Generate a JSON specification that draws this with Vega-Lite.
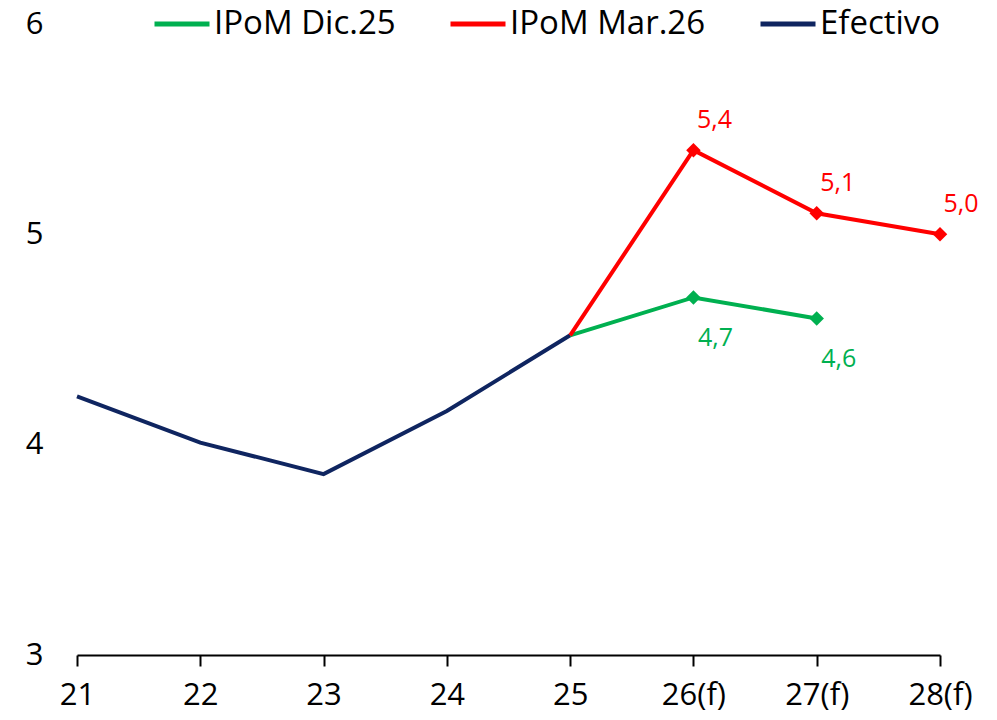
{
  "$schema": "https://vega.github.io/schema/vega-lite/v6.json",
  "autosize": "none",
  "width": 863,
  "height": 631,
  "padding": {"left": 77, "top": 24, "right": 57, "bottom": 65},
  "config": {"view": {"stroke": null}, "font": "Open Sans"},
  "data": {"values": [
    {"serie": "Efectivo", "anio": "21", "valor": 4.23, "etiqueta": ""},
    {"serie": "Efectivo", "anio": "22", "valor": 4.01, "etiqueta": ""},
    {"serie": "Efectivo", "anio": "23", "valor": 3.86, "etiqueta": ""},
    {"serie": "Efectivo", "anio": "24", "valor": 4.16, "etiqueta": ""},
    {"serie": "Efectivo", "anio": "25", "valor": 4.52, "etiqueta": ""},
    {"serie": "IPoM Dic.25", "anio": "25", "valor": 4.52, "etiqueta": ""},
    {"serie": "IPoM Dic.25", "anio": "26(f)", "valor": 4.7, "etiqueta": "4,7"},
    {"serie": "IPoM Dic.25", "anio": "27(f)", "valor": 4.6, "etiqueta": "4,6"},
    {"serie": "IPoM Mar.26", "anio": "25", "valor": 4.52, "etiqueta": ""},
    {"serie": "IPoM Mar.26", "anio": "26(f)", "valor": 5.4, "etiqueta": "5,4"},
    {"serie": "IPoM Mar.26", "anio": "27(f)", "valor": 5.1, "etiqueta": "5,1"},
    {"serie": "IPoM Mar.26", "anio": "28(f)", "valor": 5.0, "etiqueta": "5,0"}
  ]},
  "encoding": {
    "x": {
      "field": "anio", "type": "ordinal",
      "sort": ["21", "22", "23", "24", "25", "26(f)", "27(f)", "28(f)"],
      "scale": {"type": "point", "padding": 0},
      "axis": {
        "title": null, "labelAngle": 0, "labelFontSize": 31, "labelColor": "#000000",
        "labelPadding": 14, "domainColor": "#000000", "domainWidth": 2,
        "tickColor": "#000000", "tickWidth": 2, "tickSize": 11, "grid": false
      }
    },
    "y": {
      "field": "valor", "type": "quantitative",
      "scale": {"domain": [3, 6], "nice": false, "zero": false},
      "axis": {
        "title": null, "values": [3, 4, 5, 6], "labelFontSize": 31, "labelColor": "#000000",
        "ticks": false, "domain": false, "grid": false, "labelPadding": 34
      }
    }
  },
  "layer": [
    {
      "mark": {"type": "line", "strokeWidth": 4},
      "encoding": {
        "color": {
          "field": "serie", "type": "nominal",
          "scale": {"domain": ["IPoM Dic.25", "IPoM Mar.26", "Efectivo"], "range": ["#00B050", "#FF0000", "#0F2560"]},
          "legend": {
            "title": null, "orient": "none", "direction": "horizontal",
            "legendX": 75, "legendY": -30,
            "symbolType": "stroke", "symbolSize": 3025, "symbolStrokeWidth": 5,
            "labelFontSize": 33, "labelColor": "#000000", "labelOffset": 2, "labelLimit": 0,
            "columnPadding": 44, "symbolOffset": 0, "padding": 0
          }
        },
        "order": {"field": "serie", "sort": "descending"}
      }
    },
    {
      "transform": [{"filter": "datum.etiqueta != ''"}],
      "mark": {"type": "point", "shape": "diamond", "filled": true, "size": 210, "opacity": 1},
      "encoding": {
        "color": {"field": "serie", "type": "nominal", "legend": null}
      }
    },
    {
      "transform": [{"filter": "datum.serie == 'IPoM Mar.26' && datum.etiqueta != ''"}],
      "mark": {"type": "text", "fontSize": 25, "dx": 21, "dy": -30, "color": "#FF0000"},
      "encoding": {"text": {"field": "etiqueta"}}
    },
    {
      "transform": [{"filter": "datum.serie == 'IPoM Dic.25' && datum.etiqueta != ''"}],
      "mark": {"type": "text", "fontSize": 25, "dx": 22, "dy": 41, "color": "#00B050"},
      "encoding": {"text": {"field": "etiqueta"}}
    }
  ]
}
